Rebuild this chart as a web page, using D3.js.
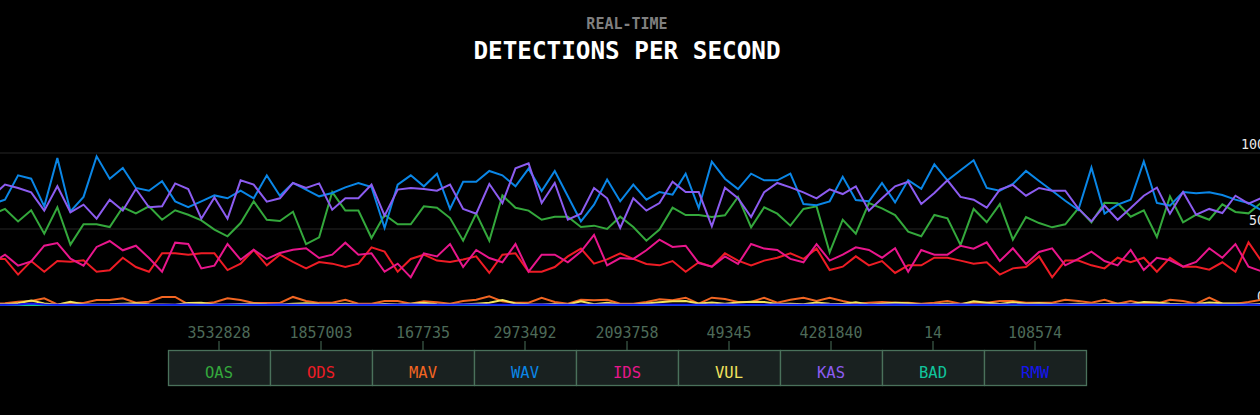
<!DOCTYPE html>
<html>
<head>
<meta charset="utf-8">
<script src="https://cdn.jsdelivr.net/npm/d3@7"></script>
<style>
  html, body { margin: 0; padding: 0; background: #000; overflow: hidden; }
  svg { display: block; }
</style>
</head>
<body>
<svg id="chart" width="1260" height="415"></svg>
<script>
// ---- data ----
const names = ["OAS", "ODS", "MAV", "WAV", "IDS", "VUL", "KAS", "BAD", "RMW"];
const colors = ["#34a83c", "#ee1c25", "#f26522", "#0a86e6", "#e8168c", "#f3e35d", "#8c5cf0", "#10c49c", "#1414f0"];
const totals = [3532828, 1857003, 167735, 2973492, 2093758, 49345, 4281840, 14, 108574];
const yTicks = [0, 50, 100];

const OAS = [59.4, 63.2, 55.0, 62.3, 46.9, 64.3, 39.7, 53.1, 53.1, 51.3, 64.3, 60.3, 64.9, 56.1, 62.3, 59.4, 55.7, 49.6, 45.2, 53.9, 68.2, 56.1, 55.3, 61.4, 40.1, 44.5,
  74.3, 62.1, 62.1, 44.1, 59.4, 53.1, 53.1, 64.9, 64.0, 57.2, 42.3, 60.1, 42.3, 72.1, 64.0, 62.1, 56.1, 58.1, 58.1, 51.3, 52.2, 50.0, 58.1,
  51.3, 42.3, 49.6, 64.0, 59.2, 59.2, 57.9, 59.0, 71.1, 51.1, 64.3, 60.1, 52.2, 63.2, 64.9, 34.6, 56.1, 46.9, 67.1, 63.6, 59.2, 48.2, 45.2,
  59.2, 57.0, 39.5, 63.2, 54.4, 66.4, 43.0, 57.9, 53.9, 51.1, 53.1, 63.6, 54.4, 67.3, 66.9, 58.1, 62.3, 44.7, 71.5, 54.4, 59.4, 56.1, 66.2, 61.2, 60.3, 67.5];
const ODS = [30.3, 30.3, 20.0, 28.9, 21.9, 28.9, 28.5, 29.4, 21.9, 22.8, 31.1, 25.0, 21.9, 34.0, 34.0, 33.1, 34.0, 34.0, 23.0, 27.2, 36.2, 26.1, 33.1, 28.3, 24.1, 28.3,
  27.2, 25.0, 27.2, 37.9, 35.1, 21.9, 30.3, 33.1, 29.2, 28.3, 30.0, 32.0, 21.1, 33.1, 34.0, 21.9, 21.9, 25.0, 32.0, 37.1, 27.2, 30.0, 34.0,
  30.3, 27.0, 26.1, 28.9, 21.9, 28.1, 25.2, 34.0, 29.2, 26.1, 29.2, 31.1, 34.0, 30.3, 37.1, 23.0, 25.2, 32.0, 26.1, 28.9, 21.1, 26.1, 26.1,
  31.1, 31.1, 29.2, 27.2, 28.1, 20.0, 24.1, 25.0, 32.0, 18.2, 29.2, 29.2, 26.1, 24.1, 31.1, 28.1, 31.1, 21.9, 31.1, 25.2, 25.2, 23.2, 28.1, 21.9, 41.2, 28.7];
const MAV = [1.0, 1.1, 2.2, 2.6, 4.4, 0.4, 1.5, 1.3, 3.3, 3.3, 4.4, 1.5, 2.2, 5.3, 5.3, 0.4, 0.9, 1.8, 4.4, 3.3, 1.3, 1.3, 1.3, 5.3, 2.6, 1.4,
  1.5, 3.5, 0.9, 0.9, 2.6, 2.6, 0.9, 2.4, 1.8, 0.9, 2.6, 3.5, 5.7, 2.4, 1.5, 1.5, 4.8, 2.0, 0.9, 3.5, 3.1, 3.5, 0.9,
  0.9, 2.0, 3.7, 3.1, 4.8, 0.9, 4.8, 3.9, 2.0, 2.0, 4.8, 1.5, 3.5, 4.8, 2.6, 4.8, 2.6, 0.9, 1.5, 2.0, 1.5, 1.5, 0.9,
  1.5, 2.6, 0.9, 1.5, 1.5, 2.6, 2.6, 1.5, 1.5, 1.5, 3.5, 2.6, 1.5, 3.5, 0.9, 2.6, 0.9, 0.9, 3.5, 2.6, 0.9, 4.8, 0.9, 0.9, 2.0, 3.5];
const WAV = [66.4, 69.3, 85.3, 83.1, 64.9, 96.7, 61.6, 71.1, 97.8, 83.1, 90.1, 77.0, 75.2, 81.4, 68.2, 64.3, 68.2, 72.1, 70.2, 75.2, 70.2, 85.3, 71.9, 80.3, 75.9, 71.5,
  73.7, 77.4, 80.3, 77.6, 50.7, 79.2, 85.3, 78.1, 86.4, 63.2, 81.1, 81.1, 88.2, 85.3, 78.1, 89.7, 75.0, 88.2, 71.5, 55.0, 66.0, 82.5, 68.2,
  79.2, 69.3, 74.3, 72.6, 86.4, 63.8, 94.3, 83.1, 76.3, 86.4, 82.0, 82.0, 86.4, 66.4, 65.6, 68.2, 84.4, 69.1, 68.2, 80.3, 67.5, 82.2, 76.5,
  92.5, 82.0, 88.6, 95.2, 77.0, 75.2, 79.6, 88.2, 81.6, 75.2, 68.6, 62.5, 90.4, 60.1, 66.0, 69.3, 94.5, 67.1, 65.4, 74.3, 73.5, 74.1, 72.4, 69.3, 67.1, 62.3];
const IDS = [27.6, 33.1, 25.9, 28.7, 39.0, 40.8, 30.5, 25.9, 38.2, 42.1, 36.0, 39.0, 30.9, 21.9, 41.0, 40.1, 24.1, 25.9, 40.1, 29.8, 36.4, 30.3, 34.2, 36.4, 37.3, 30.9,
  33.1, 41.0, 33.1, 34.0, 21.9, 27.2, 18.2, 34.0, 32.0, 40.1, 25.0, 36.2, 30.9, 28.1, 40.1, 21.9, 33.1, 33.1, 28.1, 35.1, 46.1, 26.1, 30.9,
  30.3, 36.0, 43.0, 38.2, 39.0, 27.6, 25.2, 32.0, 27.0, 40.1, 37.1, 36.2, 30.3, 28.1, 40.1, 29.2, 33.1, 37.9, 36.2, 31.1, 37.3, 21.9, 36.2,
  33.1, 33.1, 39.0, 37.1, 41.2, 28.9, 37.3, 27.0, 34.9, 37.3, 26.1, 30.3, 35.1, 28.9, 26.1, 36.2, 23.0, 31.1, 29.4, 25.2, 28.3, 37.3, 31.1, 40.1, 25.2, 22.2];
const VUL = [0.3, 0.5, 1.2, 3.0, 1.0, 0.2, 2.2, 0.3, 0.4, 0.5, 0.9, 1.1, 0.5, 0.3, 0.2, 1.3, 1.5, 0.3, 0.4, 0.6, 0.8, 0.5, 0.4, 0.9, 1.2, 0.6,
  0.5, 0.8, 0.4, 0.2, 0.6, 0.3, 0.9, 1.4, 0.5, 0.3, 0.4, 0.9, 1.5, 3.2, 1.0, 0.5, 0.4, 0.6, 0.3, 2.4, 0.5, 1.4, 0.3,
  0.4, 1.0, 1.8, 2.4, 2.6, 1.0, 1.6, 0.8, 1.6, 2.2, 2.0, 0.7, 0.9, 0.5, 1.6, 0.8, 0.6, 1.8, 0.4, 0.9, 1.5, 1.2, 0.4,
  0.5, 0.9, 0.3, 2.4, 1.5, 0.6, 1.8, 0.8, 1.2, 0.6, 0.5, 0.9, 0.4, 0.6, 0.8, 0.5, 2.0, 1.6, 0.8, 0.5, 0.7, 1.6, 1.1, 1.0, 0.3, 0.8];
const KAS = [71.5, 79.2, 77.0, 74.1, 62.1, 78.1, 61.0, 66.0, 56.8, 69.3, 62.1, 76.3, 64.3, 64.9, 80.0, 76.3, 56.8, 70.8, 56.8, 82.0, 79.2, 68.0, 70.2, 80.3, 77.0, 80.0,
  62.7, 70.2, 70.2, 79.2, 58.8, 75.9, 77.0, 76.3, 75.2, 79.2, 63.2, 60.1, 79.6, 67.1, 89.9, 93.2, 67.1, 80.3, 56.1, 60.1, 77.0, 70.2, 50.7,
  70.2, 62.1, 67.1, 81.1, 74.3, 74.3, 51.8, 77.2, 70.2, 57.9, 74.3, 80.3, 77.4, 74.1, 70.2, 76.1, 73.0, 78.1, 62.1, 70.2, 78.1, 81.1, 66.5,
  73.7, 82.0, 71.1, 69.3, 64.0, 75.9, 79.0, 71.9, 77.0, 75.2, 75.2, 63.4, 55.0, 65.4, 56.1, 63.8, 71.9, 77.2, 60.1, 74.3, 59.4, 63.2, 60.5, 71.9, 66.7, 70.4];
const BAD = [0, 0, 0, 0, 0, 0, 0, 0, 0, 0, 0, 0, 0, 0, 0, 0, 0, 0, 0, 0, 0, 0, 0, 0, 0, 0,
  0, 0, 0, 0, 0, 0, 0, 0, 0, 0, 0, 0, 0, 0, 0, 0, 0, 0, 0, 0, 0, 0, 0,
  0, 0, 0, 0, 0, 0, 0, 0, 0, 0, 0, 0, 0, 0, 0, 0, 0, 0, 0, 0, 0, 0, 0,
  0, 0, 0, 0, 0, 0, 0, 0, 0, 0, 0, 0, 0, 0, 0, 0, 0, 0, 0, 0, 0, 0, 0, 0, 0, 0];
const RMW = [0.1, 0.2, 0.4, 1.0, 0.3, 0.1, 0.2, 0.1, 0.1, 0.2, 0.3, 0.2, 0.1, 0.2, 0.1, 0.3, 0.2, 0.1, 0.4, 0.3, 0.2, 0.1, 0.3, 0.2, 0.1, 0.2,
  0.1, 0.2, 0.1, 0.2, 0.1, 0.1, 0.3, 0.2, 0.1, 0.2, 0.3, 0.4, 0.2, 0.1, 0.2, 0.1, 0.3, 0.2, 0.1, 0.2, 0.1, 0.3, 0.2,
  0.1, 0.2, 0.3, 0.2, 0.1, 0.2, 0.1, 0.3, 0.2, 0.1, 0.2, 0.3, 0.2, 0.1, 0.2, 0.4, 0.2, 0.1, 0.2, 0.1, 0.3, 0.2, 0.1,
  0.2, 0.1, 0.3, 0.2, 0.1, 0.2, 0.4, 0.2, 0.1, 0.2, 0.3, 0.2, 0.1, 0.2, 0.1, 0.3, 0.2, 0.1, 0.2, 0.1, 0.3, 0.2, 0.1, 0.2, 0.3, 0.2];

const seriesValues = [OAS, ODS, MAV, WAV, IDS, VUL, KAS, BAD, RMW];

// ---- drawing ----
const W = 1260;
const svg = d3.select("#chart");
const font = "'DejaVu Sans Mono', monospace";
const cx = 627;

svg.append("text").attr("x", cx).attr("y", 29).attr("text-anchor", "middle")
  .attr("font-family", font).attr("font-size", 15).attr("font-weight", "bold")
  .attr("fill", "#7f7f7f").text("REAL-TIME");
svg.append("text").attr("x", cx).attr("y", 58.5).attr("text-anchor", "middle")
  .attr("font-family", font).attr("font-size", 24.3).attr("font-weight", "bold")
  .attr("fill", "#ffffff").text("DETECTIONS PER SECOND");

const n = OAS.length;
const x = d3.scaleLinear().domain([0, n - 1]).range([-8.1, 1261.6]);
const y = d3.scaleLinear().domain([0, 100]).range([305, 153]);

// grid + labels (the reference clips these labels at the right edge)
const grid = svg.append("g");
grid.selectAll("line").data(yTicks.filter(t => t > 0)).join("line")
  .attr("x1", 0).attr("x2", W)
  .attr("y1", d => y(d)).attr("y2", d => y(d))
  .attr("stroke", "#262626").attr("stroke-width", 1);
grid.selectAll("text").data(yTicks).join("text")
  .attr("x", 1265).attr("y", d => y(d) - 4)
  .attr("text-anchor", "end")
  .attr("font-family", font).attr("font-size", 13.3)
  .attr("fill", "#e8e8e8").text(d => d);

const line = d3.line().x((d, i) => x(i)).y(d => y(d));
svg.append("g").selectAll("path").data(seriesValues).join("path")
  .attr("d", d => line(d))
  .attr("fill", "none")
  .attr("stroke", (d, i) => colors[i])
  .attr("stroke-width", 2)
  .attr("stroke-linejoin", "miter");

// legend
const band = d3.scaleBand().domain(names).range([168, 1086]).padding(0);
const leg = svg.append("g");
const items = leg.selectAll("g").data(names).join("g")
  .attr("transform", d => `translate(${band(d)},0)`);
items.append("rect")
  .attr("x", 0.5).attr("y", 350.5)
  .attr("width", band.bandwidth()).attr("height", 35)
  .attr("fill", "#192120").attr("stroke", "#4a715b").attr("stroke-width", 1.3);
items.append("line")
  .attr("x1", band.bandwidth() / 2).attr("x2", band.bandwidth() / 2)
  .attr("y1", 341).attr("y2", 350)
  .attr("stroke", "#4a715b").attr("stroke-width", 1);
items.append("text")
  .attr("x", band.bandwidth() / 2).attr("y", 338)
  .attr("text-anchor", "middle")
  .attr("font-family", font).attr("font-size", 15)
  .attr("fill", "#4d6a58")
  .text((d, i) => totals[i]);
items.append("text")
  .attr("x", band.bandwidth() / 2).attr("y", 378)
  .attr("text-anchor", "middle")
  .attr("font-family", font).attr("font-size", 15.5)
  .attr("fill", (d, i) => colors[i])
  .text(d => d);
</script>
</body>
</html>
